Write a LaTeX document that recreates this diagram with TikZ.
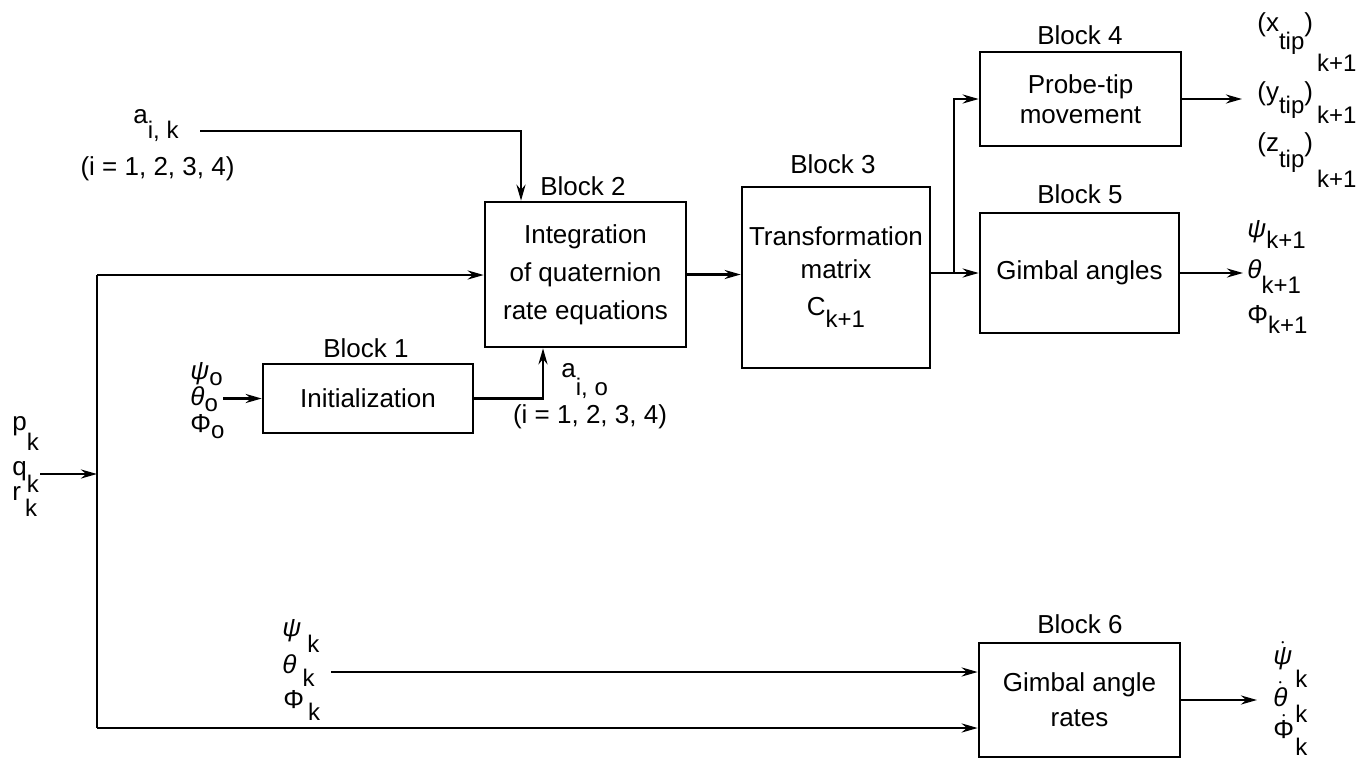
\documentclass[tikz,border=0pt]{standalone}
\usepackage{fontspec}
\setmainfont{Liberation Sans}
\usetikzlibrary{arrows.meta}
% lowered index text
\newcommand{\lo}[2]{\raisebox{-#1}{\fontsize{12}{12}\selectfont #2}}
% Greek letters taken from the text font
\newcommand{\gpsi}{\textit{ψ}}
\newcommand{\gth}{\textit{θ}}
\newcommand{\gphi}{Φ}
\newcommand{\dotted}[1]{\ensuremath{\dot{\hbox{#1}}}}
\begin{document}
\begin{tikzpicture}[x=0.5pt,y=-0.5pt,
  font=\fontsize{13}{19}\selectfont,
  blk/.style={draw, line width=1.3pt, align=center, inner sep=0pt},
  lbl/.style={inner sep=0pt, anchor=base west},
  idx/.style={inner sep=0pt, anchor=base west, font=\fontsize{12}{12}\selectfont},
  ttl/.style={inner sep=0pt, anchor=base},
  wire/.style={line width=1.3pt},
  flow/.style={wire, -{Stealth[length=8pt,width=4.5pt]}}]
\useasboundingbox (0,0) rectangle (1362,760);

% ---- blocks ----
\node[blk, minimum width=105pt, minimum height=34.5pt] (b1) at (368,398.5) {Initialization};
\node[blk, minimum width=100.5pt, minimum height=72.5pt] (b2) at (585.5,274.5)
  {Integration\\of quaternion\\rate equations};
\node[blk, minimum width=94pt, minimum height=90.5pt, font=\fontsize{13}{16.5}\selectfont] (b3) at (836,277.5)
  {Transformation\\matrix\\[2pt]C\lo{6pt}{k+1}};
\node[blk, minimum width=100.5pt, minimum height=47pt, font=\fontsize{13}{15}\selectfont] (b4) at (1080.5,99)
  {Probe-tip\\movement};
\node[blk, minimum width=99.5pt, minimum height=60pt] (b5) at (1079.5,273) {Gimbal angles};
\node[blk, minimum width=100.5pt, minimum height=57pt, font=\fontsize{13}{17.5}\selectfont] (b6) at (1079.5,700)
  {Gimbal angle\\rates};

% ---- block titles ----
\node[ttl] (t1) at (366,357) {Block 1};
\node[ttl] (t2) at (583,195) {Block 2};
\node[ttl] (t3) at (833,173) {Block 3};
\node[ttl] (t4) at (1080,45) {Block 4};
\node[ttl] (t5) at (1080,203) {Block 5};
\node[ttl] (t6) at (1080,633) {Block 6};

% ---- input labels ----
\node[lbl] (laik) at (133,123) {a\lo{7.5pt}{i, k}};
\node[ttl] (liik) at (157.5,175) {(i = 1, 2, 3, 4)};
\node[lbl] (laio) at (561,377) {a\lo{9pt}{i, o}};
\node[ttl] (liio) at (590,423) {(i = 1, 2, 3, 4)};

\node[lbl] (lpsi0) at (190,379) {\gpsi\lo{3pt}{o}};
\node[lbl] (lth0)  at (190,405) {\gth\lo{3pt}{o}};
\node[lbl] (lphi0) at (190,432) {\gphi\lo{3pt}{o}};

\node[lbl] (lp) at (12,430) {p\lo{10pt}{k}};
\node[lbl] (lq) at (12,475) {q\lo{8.5pt}{k}};
\node[lbl] (lr) at (12,500) {r\lo{8pt}{\,k}};

\node[lbl] (lpsik) at (282,636) {\gpsi\hspace{3pt}\lo{8pt}{k}};
\node[lbl] (lthk)  at (282,673) {\gth\hspace{3pt}\lo{6.5pt}{k}};
\node[lbl] (lphik) at (283,708) {\gphi\hspace{2pt}\lo{6pt}{k}};

% ---- output labels ----
\node[lbl] (lx) at (1257,32)  {(x\lo{9pt}{tip})\lo{20pt}{\,k+1}};
\node[lbl] (ly) at (1257,100) {(y\lo{6.5pt}{tip})\lo{11.5pt}{\,k+1}};
\node[lbl] (lz) at (1257,151) {(z\lo{8pt}{tip})\lo{18pt}{\,k+1}};

\node[lbl] (lpsi1) at (1247,237) {\gpsi\lo{5.5pt}{k+1}};
\node[lbl] (lth1)  at (1247,278) {\gth\lo{7.5pt}{k+1}};
\node[lbl] (lphi1) at (1247,323) {\gphi\lo{5pt}{k+1}};

% rates: dotted letters with their indices set in a column to the right
\node[lbl] (ldpsi) at (1273,664) {\dotted{\gpsi}};
\node[lbl] (ldth)  at (1273,706) {\dotted{\gth}};
\node[lbl] (ldphi) at (1273,738) {\dotted{\gphi}};
\node[idx] (kpsi) at (1295,687) {k};
\node[idx] (kth)  at (1295,722) {k};
\node[idx] (kphi) at (1295,755) {k};

% ---- connectors ----
\coordinate (aik) at (200,131);
\coordinate (aikturn) at (521,131);
\draw[flow] (aik) -- (aikturn) -- (aikturn |- b2.north);

\coordinate (busT) at (97,275);
\coordinate (busB) at (97,728);
\draw[wire] (busT) -- (busB);
\draw[flow] (busT) -- (busT -| b2.west);
\draw[flow] (busB) -- (busB -| b6.west);

\coordinate (qtail) at (40,474);
\draw[flow] (qtail) -- (qtail -| busT);

\coordinate (in0) at (223,398.5);
\draw[flow] (in0) -- (b1.west);

\coordinate (aioturn) at (543,398.5);
\draw[flow] (b1.east) -- (aioturn) -- (aioturn |- b2.south);

\draw[flow] (b2.east) -- (b2.east -| b3.west);

\coordinate (split) at (954,273);
\draw[wire] (b3.east |- split) -- (split);
\draw[flow] (split) |- (b4.west);
\draw[flow] (split) -- (split -| b5.west);

\coordinate (o4) at (1242,99);
\draw[flow] (b4.east) -- (o4);
\coordinate (o5) at (1243,273);
\draw[flow] (b5.east) -- (o5);

\coordinate (thk) at (331,672);
\draw[flow] (thk) -- (thk -| b6.west);
\coordinate (o6) at (1257,700);
\draw[flow] (b6.east) -- (o6);
\end{tikzpicture}
\end{document}
